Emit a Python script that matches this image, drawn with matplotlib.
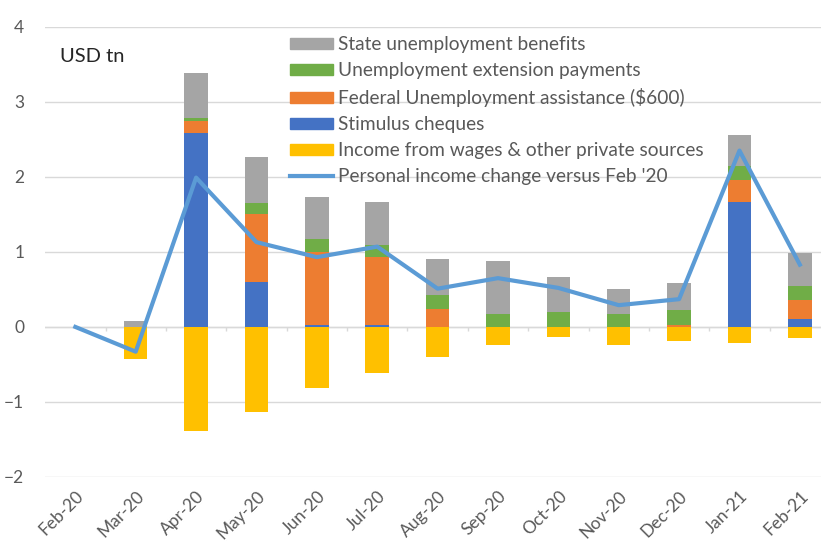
import numpy as np
import matplotlib.pyplot as plt
from matplotlib.patches import Patch
from matplotlib.lines import Line2D

plt.rcParams['font.family'] = ['Lato', 'DejaVu Sans']

# データ (USD tn)
months = ['Feb-20', 'Mar-20', 'Apr-20', 'May-20', 'Jun-20', 'Jul-20', 'Aug-20',
          'Sep-20', 'Oct-20', 'Nov-20', 'Dec-20', 'Jan-21', 'Feb-21']
stimulus = [0, 0, 2.58, 0.60, 0.02, 0.02, 0, 0, 0, 0, 0, 1.67, 0.10]
federal = [0, 0, 0.17, 0.91, 0.98, 0.91, 0.24, 0, 0, 0, 0.02, 0.29, 0.26]
extension = [0, 0, 0.03, 0.14, 0.17, 0.16, 0.19, 0.17, 0.20, 0.17, 0.20, 0.18, 0.19]
state = [0, 0.08, 0.60, 0.61, 0.56, 0.58, 0.48, 0.71, 0.46, 0.34, 0.37, 0.42, 0.43]
wages = [0, -0.43, -1.39, -1.14, -0.82, -0.61, -0.40, -0.24, -0.13, -0.24, -0.19, -0.22, -0.15]
personal = [0, -0.33, 1.99, 1.13, 0.93, 1.07, 0.51, 0.65, 0.52, 0.29, 0.37, 2.35, 0.83]

c_state = '#A5A5A5'
c_ext = '#70AD47'
c_fed = '#ED7D31'
c_stim = '#4472C4'
c_wage = '#FFC000'
c_line = '#5B9BD5'
txt = '#595959'

fig = plt.figure(figsize=(8.21, 5.47), dpi=100)
ax = fig.add_axes([0.055, 0.128, 0.956, 0.823])

x = np.arange(len(months))
w = 0.39
b1 = np.array(stimulus)
b2 = b1 + np.array(federal)
b3 = b2 + np.array(extension)
ax.bar(x, stimulus, w, color=c_stim, zorder=2)
ax.bar(x, federal, w, bottom=b1, color=c_fed, zorder=2)
ax.bar(x, extension, w, bottom=b2, color=c_ext, zorder=2)
ax.bar(x, state, w, bottom=b3, color=c_state, zorder=2)
ax.bar(x, wages, w, color=c_wage, zorder=2)
ax.plot(x, personal, color=c_line, lw=3, zorder=3)

# 軸
ax.set_xlim(-0.5, 12.5)
ax.set_ylim(-2, 4)
ax.set_yticks([-2, -1, 0, 1, 2, 3, 4])
ax.grid(axis='y', color='#D9D9D9', lw=1, zorder=0)
ax.axhline(0, color='#D9D9D9', lw=1, zorder=1)
ax.vlines(x[:-1] + 0.5, -0.06, 0, color='#D9D9D9', lw=1, zorder=1)
for s in ax.spines.values():
    s.set_visible(False)
ax.tick_params(axis='both', length=0, colors=txt, labelsize=12.5)
ax.tick_params(axis='y', pad=15)
ax.tick_params(axis='x', pad=8)
ax.set_xticks(x)
ax.set_xticklabels(months, rotation=45, ha='right', rotation_mode='anchor')

ax.text(0.019, 0.933, 'USD tn', transform=ax.transAxes, fontsize=14.5,
        color='#262626', va='center')

handles = [Patch(color=c_state), Patch(color=c_ext), Patch(color=c_fed),
           Patch(color=c_stim), Patch(color=c_wage),
           Line2D([], [], color=c_line, lw=3)]
labels = ['State unemployment benefits', 'Unemployment extension payments',
          'Federal Unemployment assistance ($600)', 'Stimulus cheques',
          'Income from wages & other private sources',
          "Personal income change versus Feb '20"]
fig.legend(handles, labels, loc='upper left', bbox_to_anchor=(290 / 821, 1 - 36 / 547),
           frameon=False, fontsize=13.8, labelcolor=txt, handlelength=2.25,
           handleheight=0.5, handletextpad=0.25, labelspacing=0.47,
           borderpad=0, borderaxespad=0)

plt.savefig('out.png', dpi=100)
